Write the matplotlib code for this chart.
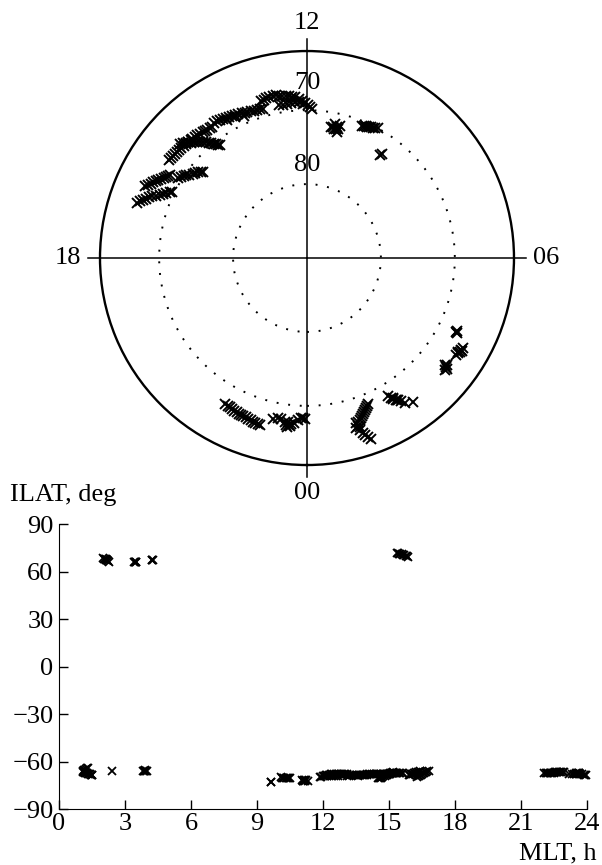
import matplotlib
matplotlib.use("Agg")
import matplotlib.pyplot as plt
import numpy as np

plt.rcParams['font.family'] = ['Liberation Serif', 'DejaVu Serif']
plt.rcParams['font.size'] = 19

# observed passes: MLT (h) and invariant latitude (deg), south < 0
mlt_a = [16.80, 16.75, 16.70, 16.65, 16.60, 16.55, 16.50, 16.45, 16.40, 16.35, 16.30, 16.26]
ilat_a = [-65.8, -66.1, -66.5, -66.8, -67.1, -67.5, -67.9, -68.3, -68.7, -69.0, -69.4, -69.7]

mlt_b = [16.40, 16.35, 16.30, 16.25, 16.20, 16.15, 16.10, 16.05, 16.00, 15.95, 15.92]
ilat_b = [-66.0, -66.3, -66.6, -66.8, -67.1, -67.3, -67.6, -67.8, -68.0, -68.2, -68.4]

mlt_c = [15.88, 15.82, 15.76, 15.70, 15.64, 15.58, 15.52, 15.46, 15.40, 15.35]
ilat_c = [69.4, 69.7, 70.0, 70.2, 70.5, 70.8, 71.0, 71.2, 71.5, 71.7]

mlt_d = [15.65, 15.58, 15.52, 15.45, 15.38, 15.32, 15.25, 15.18, 15.12, 15.05,
         14.98, 14.92, 14.85, 14.78, 14.72, 14.65, 14.58, 14.52, 14.45, 14.40]
ilat_d = [-67.1, -67.2, -67.2, -67.3, -67.3, -67.4, -67.4, -67.5, -67.5, -67.5,
          -67.6, -67.6, -67.7, -67.7, -67.8, -67.9, -67.9, -68.0, -68.1, -68.1]

mlt_e = [15.20, 15.15, 15.10, 15.05, 15.00, 14.95, 14.90, 14.85, 14.80, 14.75,
         14.70, 14.66, 14.62, 14.58, 14.55, 14.52]
ilat_e = [-66.9, -67.1, -67.4, -67.6, -67.9, -68.1, -68.4, -68.6, -68.9, -69.2,
          -69.5, -69.8, -70.1, -70.3, -70.5, -70.7]

mlt_f = [14.30, 14.22, 14.15, 14.08, 14.00, 13.92, 13.85, 13.78, 13.70, 13.62,
         13.55, 13.48, 13.40, 13.32, 13.25, 13.18, 13.10, 14.00, 13.80, 13.60]
ilat_f = [-67.8, -67.9, -68.0, -68.0, -68.1, -68.2, -68.3, -68.3, -68.4, -68.5,
          -68.6, -68.7, -68.7, -68.8, -68.8, -68.9, -69.0, -68.4, -68.6, -68.9]

mlt_g = [13.10, 13.02, 12.95, 12.88, 12.80, 12.72, 12.65, 12.58, 12.50, 12.42,
         12.35, 12.28, 12.20, 12.12, 12.05, 11.98, 11.92, 11.88,
         12.70, 12.60, 12.50, 12.40, 12.30, 12.20, 12.10]
ilat_g = [-67.9, -67.8, -67.7, -67.6, -67.6, -67.6, -67.7, -67.8, -67.9, -68.0,
          -68.1, -68.2, -68.4, -68.7, -69.0, -69.3, -69.6, -69.8,
          -68.9, -69.0, -69.0, -68.9, -68.8, -68.9, -69.2]

mlt_k = [11.05, 11.10, 11.15, 11.20, 11.25, 11.10, 11.20, 11.15, 11.30,
         10.10, 10.15, 10.20, 10.25, 10.30, 10.35, 10.40, 10.45, 10.50,
         9.62, 9.66]
ilat_k = [-71.6, -72.0, -71.8, -72.2, -71.9, -72.4, -71.5, -72.1, -72.0,
          -70.0, -70.1, -70.2, -70.3, -70.4, -70.5, -70.5, -70.6, -70.7,
          -72.7, -72.9]

mlt_n = [4.22, 4.25, 4.28, 3.40, 3.45, 3.50, 3.44, 3.48,
         2.02, 2.06, 2.10, 2.14, 2.18, 2.22, 2.26, 2.12, 2.16]
ilat_n = [67.3, 67.5, 67.4, 66.0, 66.1, 66.2, 65.9, 66.3,
          68.4, 68.0, 67.7, 67.4, 67.1, 66.8, 66.3, 67.8, 67.2]

mlt_s = [3.80, 3.85, 3.90, 3.95, 4.00, 3.88, 3.93, 2.41,
         1.52, 1.48, 1.44, 1.40, 1.36, 1.32, 1.28, 1.24, 1.20, 1.15,
         1.10, 1.12, 1.08, 1.14, 1.18, 1.22, 1.26, 1.30, 1.16]
ilat_s = [-65.9, -65.8, -65.8, -65.8, -65.7, -66.0, -65.6, -65.8,
          -68.6, -68.4, -68.2, -68.0, -67.8, -67.6, -67.4, -67.2, -67.0, -66.8,
          -66.7, -66.3, -66.0, -65.6, -65.2, -64.8, -64.4, -64.0, -66.1]

mlt_h = [22.05, 22.12, 22.18, 22.24, 22.30, 22.36, 22.42, 22.48, 22.54, 22.60,
         22.66, 22.72, 22.78, 22.84, 22.90, 22.95,
         23.20, 23.31, 23.40, 23.48, 23.52, 23.56, 23.60, 23.64, 23.55, 23.62,
         23.70, 23.78, 23.85, 23.90, 23.95]
ilat_h = [-67.4, -67.3, -67.3, -67.2, -67.1, -67.1, -67.0, -67.0, -66.9, -66.9,
          -66.8, -66.8, -66.7, -66.6, -66.6, -66.5,
          -67.8, -68.0, -67.9, -67.6, -67.2, -67.0, -67.3, -67.5, -67.7, -67.1,
          -67.6, -68.0, -68.3, -68.4, -68.2]

passes = [(mlt_a, ilat_a), (mlt_b, ilat_b), (mlt_c, ilat_c), (mlt_d, ilat_d),
          (mlt_e, ilat_e), (mlt_f, ilat_f), (mlt_g, ilat_g), (mlt_k, ilat_k),
          (mlt_n, ilat_n), (mlt_s, ilat_s), (mlt_h, ilat_h)]

dial_lats = [70, 80]
lat_edge = 62
hour_labels = ["00", "06", "12", "18"]

fig = plt.figure(figsize=(6.02, 8.65), dpi=100)

# --- MLT / ILAT dial ---
ax1 = fig.add_axes([0.1661, 0.4624, 0.6877, 0.4786], projection='polar')
ax1.set_theta_zero_location('S')
ax1.set_theta_direction(1)
ax1.set_rlim(0, 90 - lat_edge)
ax1.set_xticks([])
ax1.set_yticks([])
ax1.grid(False)
ax1.spines['polar'].set_linewidth(1.7)

th = np.linspace(0, 2 * np.pi, 400)
for lat in dial_lats:
    ax1.plot(th, np.full_like(th, 90 - lat), color='k', lw=1.4,
             linestyle=(0, (1, 5)))

for h in [0, 6, 12, 18]:
    ax1.plot([h / 24 * 2 * np.pi] * 2, [0, 29.6], color='k', lw=1.1,
             clip_on=False)

for h, lab in zip([0, 6, 12, 18], hour_labels):
    r = 31.8 if h in (0, 12) else 32.4
    ax1.text(h / 24 * 2 * np.pi, r, lab, ha='center', va='center', clip_on=False)

ax1.text(np.pi, 23.7, "70", ha='center', va='center')
ax1.text(np.pi, 12.6, "80", ha='center', va='center')

for m, lat in passes:
    ax1.plot(np.array(m) / 24 * 2 * np.pi, 90 - np.abs(lat), 'x', color='k',
             ms=6.5, mew=1.4)

# --- ILAT vs MLT ---
ax2 = fig.add_axes([0.098, 0.0647, 0.877, 0.3295])
for m, lat in passes:
    ax2.plot(m, lat, 'x', color='k', ms=6, mew=1.3, clip_on=False)
ax2.set_xlim(0, 24)
ax2.set_ylim(-90, 90)
ax2.set_xticks(np.arange(0, 25, 3))
ax2.set_yticks(np.arange(-90, 91, 30))
ax2.spines['top'].set_visible(False)
ax2.spines['right'].set_visible(False)
ax2.tick_params(direction='in', length=6.5, width=1)
ax2.tick_params(axis='x', pad=3)
ax2.tick_params(axis='y', pad=4)

fig.text(10 / 602, 1 - 495 / 865, "ILAT, deg", ha='left', va='center')
fig.text(597 / 602, 1 - 864 / 865, "MLT, h", ha='right', va='bottom')

fig.savefig("out.png", dpi=100)
plt.close(fig)
